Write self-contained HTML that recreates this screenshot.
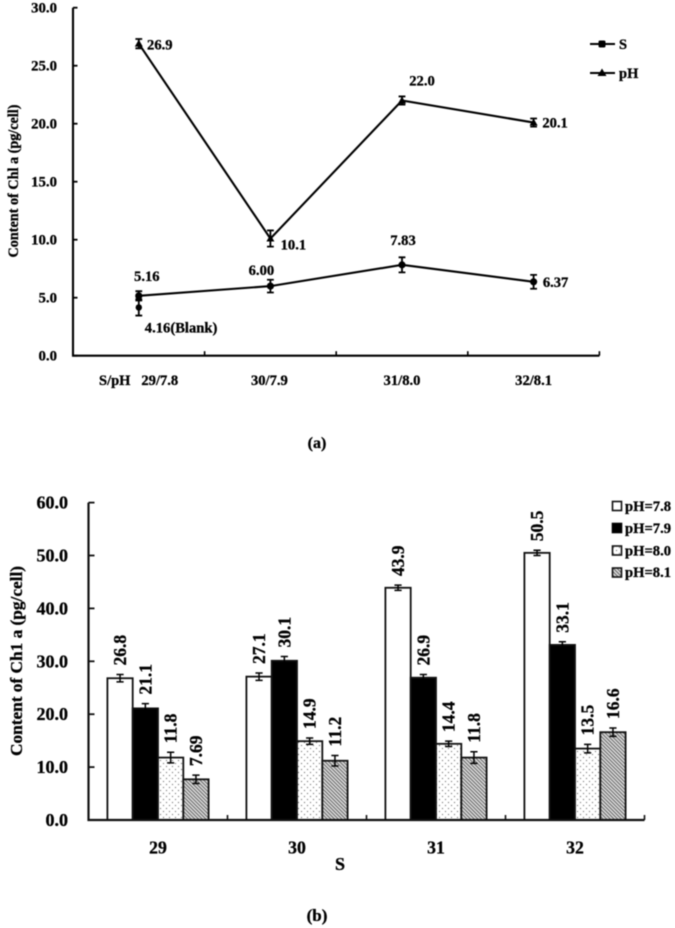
<!DOCTYPE html>
<html lang="en">
<head>
<meta charset="utf-8">
<title>Content of Chl a charts</title>
<style>
html,body{margin:0;padding:0;background:#fff;width:675px;height:928px;overflow:hidden}
svg{display:block;filter:blur(0.5px)}
text{font-family:"Liberation Serif",serif;font-weight:bold;fill:#000;stroke:#000;stroke-width:0.3px}
</style>
</head>
<body>
<svg id="figure" xmlns="http://www.w3.org/2000/svg" width="675" height="928" viewBox="0 0 675 928">
  <defs>
    <pattern id="dots" width="6" height="6" patternUnits="userSpaceOnUse">
      <rect width="6" height="6" fill="#fff"/>
      <circle cx="1.5" cy="1.5" r="0.65" fill="#777"/>
      <circle cx="4.5" cy="4.5" r="0.65" fill="#777"/>
    </pattern>
    <pattern id="hatch" width="2.6" height="2.6" patternUnits="userSpaceOnUse" patternTransform="rotate(-45)">
      <rect width="2.6" height="2.6" fill="#e2e2e2"/>
      <rect width="1.2" height="2.6" fill="#707070"/>
    </pattern>
  </defs>
  <g id="chart-a"></g>
  <g id="chart-b"></g>

  <text transform="translate(18,181) rotate(-90)" font-size="14.2" text-anchor="middle">Content of Chl a (pg/cell)</text>
  <text x="99" y="385" font-size="14.5">S/pH</text>
  <text x="317" y="448" font-size="16" text-anchor="middle">(a)</text>

  <g>
    <line x1="590" y1="44" x2="615" y2="44" stroke="#000" stroke-width="2"/>
    <rect x="598.5" y="40.5" width="7" height="7" rx="1.5" fill="#000"/>
    <text x="619" y="49" font-size="14.5">S</text>
    <line x1="590" y1="73" x2="615" y2="73" stroke="#000" stroke-width="2"/>
    <polygon points="602,68.5 606.5,76 597.5,76" fill="#000"/>
    <text x="619" y="78" font-size="14.5">pH</text>
  </g>

  <text transform="translate(22,661) rotate(-90)" font-size="17.3" text-anchor="middle">Content of Ch1 a (pg/cell)</text>
  <text x="340" y="870" font-size="18" text-anchor="middle">S</text>
  <text x="317" y="921" font-size="17" text-anchor="middle">(b)</text>

  <g>
    <rect x="612.5" y="501.5" width="9" height="9" fill="#fff" stroke="#111" stroke-width="1.6"/>
    <text x="625" y="511" font-size="14.6">pH=7.8</text>
    <rect x="612.5" y="523.5" width="9" height="9" fill="#000" stroke="#000" stroke-width="1.6"/>
    <text x="625" y="533" font-size="14.6">pH=7.9</text>
    <rect x="612.5" y="546" width="9" height="9" fill="url(#dots)" stroke="#111" stroke-width="1.6"/>
    <text x="625" y="555.5" font-size="14.6">pH=8.0</text>
    <rect x="612.5" y="568" width="9" height="9" fill="url(#hatch)" stroke="#111" stroke-width="1.6"/>
    <text x="625" y="577" font-size="14.6">pH=8.1</text>
  </g>
</svg>

<script>
// ---- Chart (a) data ----
const aCategories = ['29/7.8', '30/7.9', '31/8.0', '32/8.1'];
const aTicks = [0, 5, 10, 15, 20, 25, 30];
const aTickLabels = ['0.0', '5.0', '10.0', '15.0', '20.0', '25.0', '30.0'];
const sValues = [5.16, 6.00, 7.83, 6.37];
const sErrors = [0.4, 0.55, 0.65, 0.6];
const sLabels = ['5.16', '6.00', '7.83', '6.37'];
const phValues = [26.9, 10.1, 22.0, 20.1];
const phErrors = [0.4, 0.7, 0.35, 0.35];
const phLabels = ['26.9', '10.1', '22.0', '20.1'];
const blankValue = [4.16];
const blankError = [0.7];
const blankLabel = ['4.16(Blank)'];

// ---- Chart (b) data ----
const bCategories = ['29', '30', '31', '32'];
const bTicks = [0, 10, 20, 30, 40, 50, 60];
const bTickLabels = ['0.0', '10.0', '20.0', '30.0', '40.0', '50.0', '60.0'];
const ph78Values = [26.8, 27.1, 43.9, 50.5];
const ph79Values = [21.1, 30.1, 26.9, 33.1];
const ph80Values = [11.8, 14.9, 14.4, 13.5];
const ph81Values = [7.69, 11.2, 11.8, 16.6];
const ph78Errors = [0.7, 0.7, 0.5, 0.5];
const ph79Errors = [0.9, 0.8, 0.6, 0.6];
const ph80Errors = [1.0, 0.6, 0.5, 0.8];
const ph81Errors = [0.8, 1.0, 1.1, 0.8];
const ph78Labels = ['26.8', '27.1', '43.9', '50.5'];
const ph79Labels = ['21.1', '30.1', '26.9', '33.1'];
const ph80Labels = ['11.8', '14.9', '14.4', '13.5'];
const ph81Labels = ['7.69', '11.2', '11.8', '16.6'];

const NS = 'http://www.w3.org/2000/svg';
function mk(tag, attrs, parent) {
  const el = document.createElementNS(NS, tag);
  for (const k in attrs) el.setAttribute(k, attrs[k]);
  parent.appendChild(el);
  return el;
}

// ---- Axis functions ----
const aX0 = 73, aCatW = 131.6, aY0 = 355.7, aPxPerUnit = 11.6;
const ax = i => aX0 + aCatW * (i + 0.5);
const ay = v => aY0 - v * aPxPerUnit;
const bX0 = 88.5, bCatW = 139, bY0 = 820, bPxPerUnit = 5.29, barW = 25.3;
const bx = (i, s) => bX0 + bCatW * (i + 0.5) + barW * (s - 2);
const by = v => bY0 - v * bPxPerUnit;

// ---- Chart (a) ----
const gA = document.getElementById('chart-a');
const axisA = mk('path', {d: `M${aX0} ${ay(30)}V${aY0}H${aX0 + 4 * aCatW}`, fill: 'none', stroke: '#000', 'stroke-width': 2.1}, gA);



aTicks.forEach((t, i) => {
  const tick = mk('line', {x1: aX0, x2: aX0 + 4.5, y1: ay(t), y2: ay(t), stroke: '#000', 'stroke-width': 1.8}, gA);
  
  
  const lab = mk('text', {x: 57, y: ay(t) + 5, 'font-size': 14.8, 'text-anchor': 'end'}, gA);
  lab.textContent = aTickLabels[i];
  
  
});

const aCatNudge = [21, -1, 0, 0];
aCategories.forEach((c, i) => {
  const tick = mk('line', {x1: aX0 + aCatW * (i + 1), x2: aX0 + aCatW * (i + 1), y1: aY0, y2: aY0 - 4.5, stroke: '#000', 'stroke-width': 1.6}, gA);
  
  
  const lab = mk('text', {x: ax(i) + aCatNudge[i], y: 385, 'font-size': 14.6, 'text-anchor': 'middle'}, gA);
  lab.textContent = c;
  
  
});

function errorBar(parent, x, yHi, yLo, capW, width) {
  return mk('path', {d: `M${x - capW} ${yHi}H${x + capW}M${x} ${yHi}V${yLo}M${x - capW} ${yLo}H${x + capW}`, fill: 'none', stroke: '#000', 'stroke-width': width}, parent);
}

function linePath(vals) {
  return vals.map((v, i) => (i ? 'L' : 'M') + ax(i) + ' ' + ay(v)).join('');
}

const sLine = mk('path', {d: linePath(sValues), fill: 'none', stroke: '#000', 'stroke-width': 2.1}, gA);


const phLine = mk('path', {d: linePath(phValues), fill: 'none', stroke: '#000', 'stroke-width': 2.1}, gA);



// label placement relative to each point (text centre)
const sLabelDx = [8, -9, 1, 22];
const sLabelDy = [-20, -16, -25, 0];
const phLabelDx = [21, 23, 20, 21.5];
const phLabelDy = [1, 6, -20, 0];

sValues.forEach((v, i) => {
  const eb = errorBar(gA, ax(i), ay(v + sErrors[i]), ay(v - sErrors[i]), 3.4, 1.8);
  
  
  const m = mk('circle', {cx: ax(i), cy: ay(v), r: 3.6, fill: '#000'}, gA);
  
  
  const lab = mk('text', {x: ax(i) + sLabelDx[i], y: ay(v) + sLabelDy[i] + 5, 'font-size': 14.6, 'text-anchor': 'middle'}, gA);
  lab.textContent = sLabels[i];
  
  
});

phValues.forEach((v, i) => {
  const eb = errorBar(gA, ax(i), ay(v + phErrors[i]), ay(v - phErrors[i]), 3.4, 1.8);
  
  
  const px = ax(i), py = ay(v);
  const m = mk('polygon', {points: `${px},${py - 4} ${px + 4},${py + 3} ${px - 4},${py + 3}`, fill: '#000'}, gA);
  
  
  const lab = mk('text', {x: px + phLabelDx[i], y: py + phLabelDy[i] + 5, 'font-size': 14.6, 'text-anchor': 'middle'}, gA);
  lab.textContent = phLabels[i];
  
  
});

const blankBar = errorBar(gA, ax(0), ay(blankValue[0] + blankError[0]), ay(blankValue[0] - blankError[0]), 3.4, 1.8);


const blankPoint = mk('circle', {cx: ax(0), cy: ay(blankValue[0]), r: 3.2, fill: '#000'}, gA);


const blankText = mk('text', {x: ax(0) + 6, y: ay(blankValue[0]) + 25, 'font-size': 14.6}, gA);
blankText.textContent = blankLabel[0];



// ---- Chart (b) ----
const gB = document.getElementById('chart-b');
const bSeriesValues = [ph78Values, ph79Values, ph80Values, ph81Values];
const bSeriesErrors = [ph78Errors, ph79Errors, ph80Errors, ph81Errors];
const bSeriesLabels = [ph78Labels, ph79Labels, ph80Labels, ph81Labels];
const bFills = ['#fff', '#000', 'url(#dots)', 'url(#hatch)'];

bSeriesValues.forEach((vals, s) => {
  vals.forEach((v, i) => {
    const bar = mk('rect', {x: bx(i, s), y: by(v), width: barW, height: bY0 - by(v), fill: bFills[s], stroke: '#111', 'stroke-width': 1.8}, gB);
    
    
  });
});

bSeriesValues.forEach((vals, s) => {
  vals.forEach((v, i) => {
    const cx = bx(i, s) + barW / 2;
    const err = bSeriesErrors[s][i];
    const eb = errorBar(gB, cx, by(v + err), by(v - err), 3.6, 1.5);
    
    
    const yStart = by(v + err) - 9;
    const lab = mk('text', {transform: `translate(${cx + 6},${yStart}) rotate(-90)`, 'font-size': 17.5}, gB);
    lab.textContent = bSeriesLabels[s][i];
    
    
  });
});

const axisB = mk('path', {d: `M${bX0} ${by(60)}V${bY0}H${bX0 + 4 * bCatW}`, fill: 'none', stroke: '#111', 'stroke-width': 2.2}, gB);



bTicks.forEach((t, i) => {
  const tick = mk('line', {x1: bX0, x2: bX0 + 6, y1: by(t), y2: by(t), stroke: '#111', 'stroke-width': 1.8}, gB);
  
  
  const lab = mk('text', {x: 68, y: by(t) + 6, 'font-size': 18, 'text-anchor': 'end'}, gB);
  lab.textContent = bTickLabels[i];
  
  
});

bCategories.forEach((c, i) => {
  const tx = bX0 + bCatW * (i + 1);
  const tick = mk('line', {x1: tx, x2: tx, y1: bY0, y2: bY0 - 5, stroke: '#111', 'stroke-width': 1.6}, gB);
  
  
  const lab = mk('text', {x: bX0 + bCatW * (i + 0.5), y: 853.5, 'font-size': 17.7, 'text-anchor': 'middle'}, gB);
  lab.textContent = c;
  
  
});
</script>
</body>
</html>
